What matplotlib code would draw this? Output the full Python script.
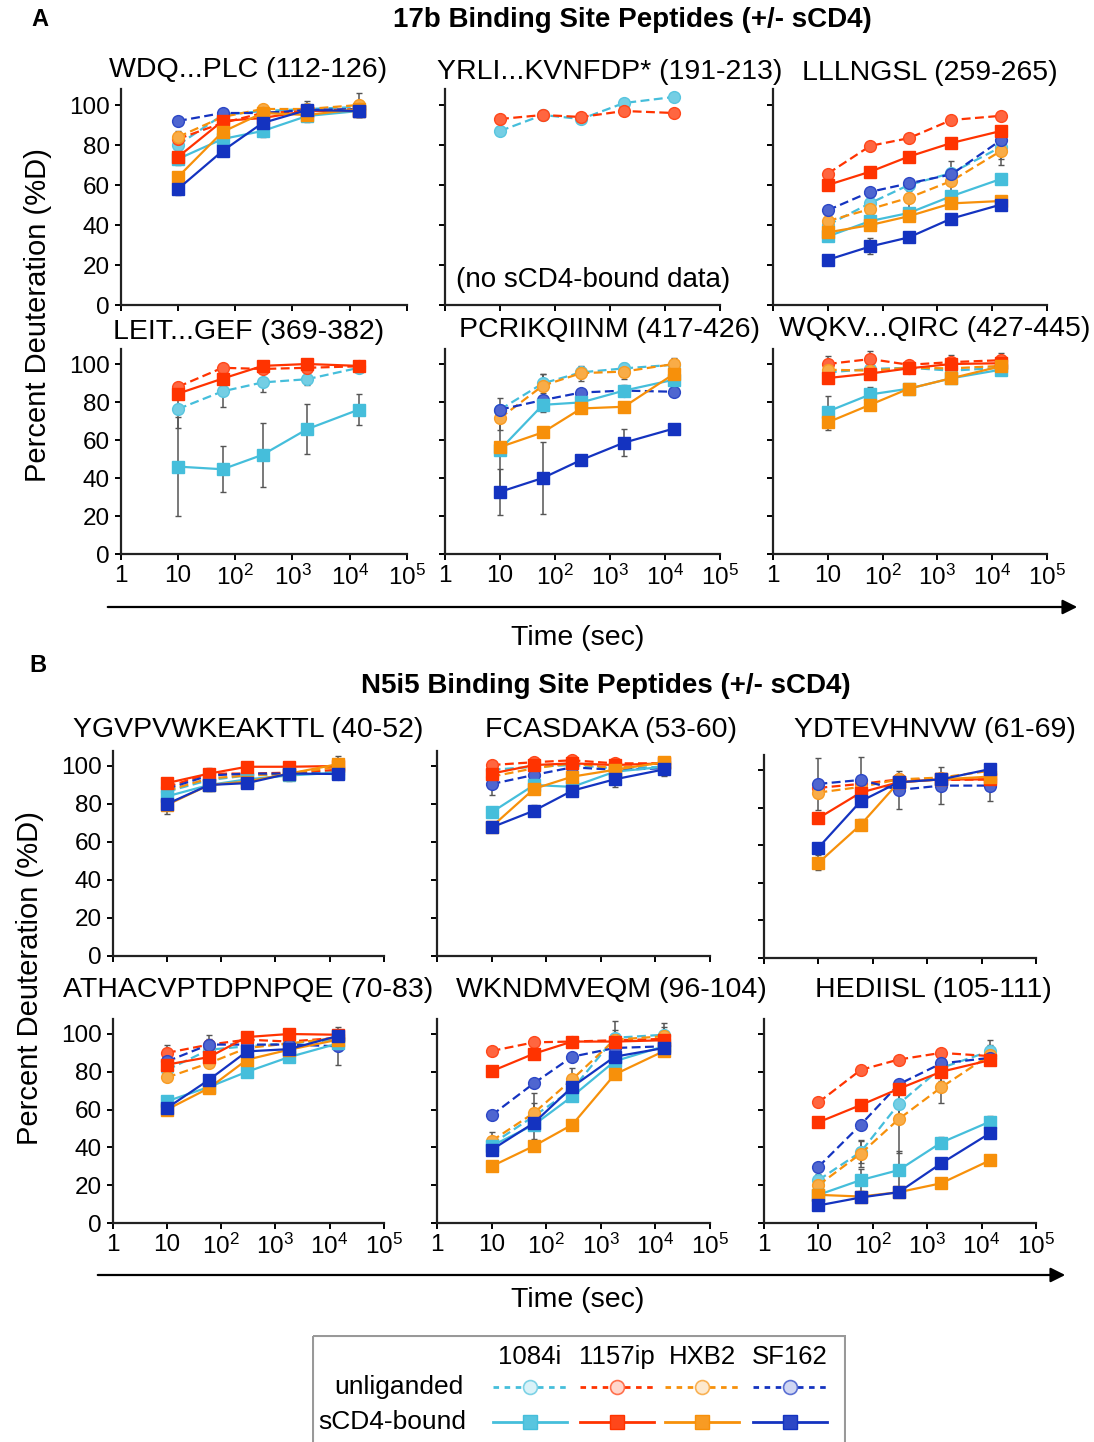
import matplotlib.pyplot as plt
from matplotlib.patches import Rectangle

plt.rcParams['font.family'] = ['Liberation Sans', 'DejaVu Sans']
plt.rcParams['mathtext.fontset'] = 'custom'
plt.rcParams['mathtext.rm'] = 'Liberation Sans'

W, H = 1094, 1442

TIMES = [10, 60, 300, 1800, 14400]
STRAINS = ["1084i", "1157ip", "HXB2", "SF162"]
COLORS = {"1084i": "#45bedb", "1157ip": "#ff3300", "HXB2": "#f7900a", "SF162": "#1433c0"}
XTICKS = [1, 10, 100, 1000, 10000, 100000]
XLABELS = ["1", "10", r"$\mathregular{10^{2}}$", r"$\mathregular{10^{3}}$",
           r"$\mathregular{10^{4}}$", r"$\mathregular{10^{5}}$"]
YTICKS = [0, 20, 40, 60, 80, 100]

# ---- A: 17b binding site peptides ----
wdq_unlig = {"1084i": [80, 95, 97, 98, 99], "1157ip": [83, 91, 96, 97, 98],
             "HXB2": [84, 94, 98, 98, 100], "SF162": [92, 96, 96, 97.5, 98]}
wdq_bound = {"1084i": [73, 83, 87, 94.5, 97], "1157ip": [74, 92, 93.5, 97, 97],
             "HXB2": [64, 86.5, 96, 95, 98], "SF162": [58, 77, 91, 97.5, 97]}
wdq_err = {("b", "SF162"): [3, 2, 2, 2, 3], ("u", "HXB2"): [3, 2, 2, 4, 6],
           ("b", "1084i"): [3, 2, 3, 3, 3]}

yrli_unlig = {"1084i": [87, 95, 93, 101, 104], "1157ip": [93, 95, 94, 97, 96]}
yrli_bound = {}
yrli_err = {}

lll_unlig = {"1084i": [40, 51, 60, 66, 79], "1157ip": [65.7, 79.6, 83.4, 92.5, 94.6],
             "HXB2": [42, 48, 53.6, 62, 77], "SF162": [47.4, 56.6, 60.8, 65.3, 82.4]}
lll_bound = {"1084i": [34.3, 42, 46, 54.4, 63], "1157ip": [60, 66.7, 74.2, 81, 87],
             "HXB2": [36.3, 40, 44.4, 50.8, 52], "SF162": [22.6, 29.3, 33.8, 43.2, 50.2]}
lll_err = {("u", "HXB2"): [2, 5, 6, 5, 7], ("b", "SF162"): [2, 4, 2, 2, 2],
           ("u", "1084i"): [2, 3, 3, 6, 6]}

leit_unlig = {"1084i": [76.3, 85.6, 90.3, 92, 98], "1157ip": [88, 98, 97.4, 98, 98.8]}
leit_bound = {"1084i": [46, 44.6, 52.2, 65.7, 76], "1157ip": [84.4, 92.3, 99, 100, 99]}
leit_err = {("b", "1084i"): [26, 12, 17, 13, 8], ("u", "1084i"): [10, 8, 5, 3, 2]}

pcr_unlig = {"1084i": [76, 89.8, 95.6, 97.7, 99.6], "HXB2": [71.5, 88.6, 95.2, 96, 100],
             "SF162": [76, 81, 85, 86, 85.4]}
pcr_bound = {"1084i": [55, 78.5, 79.8, 86, 91.7], "HXB2": [56.3, 64, 76.6, 77.5, 94.7],
             "SF162": [32.7, 40, 49.5, 58.6, 66]}
pcr_err = {("b", "1084i"): [22, 4, 3, 3, 3], ("b", "SF162"): [12, 19, 2, 7, 2],
           ("u", "HXB2"): [6, 6, 4, 4, 3], ("u", "1084i"): [6, 5, 3, 3, 3]}

wqk_unlig = {"1084i": [95.6, 97.4, 98, 96.5, 98], "1157ip": [100, 102.6, 99.6, 101, 102],
             "HXB2": [97, 96.5, 98, 97.7, 99]}
wqk_bound = {"1084i": [75, 84, 87, 92.5, 97], "1157ip": [92.6, 95, 97.7, 100, 100.4],
             "HXB2": [69.3, 78.6, 87, 92.5, 98.8]}
wqk_err = {("b", "1084i"): [8, 4, 2, 2, 2], ("b", "HXB2"): [4, 3, 2, 2, 2],
           ("u", "1157ip"): [4, 4, 2, 4, 4]}

# ---- B: N5i5 binding site peptides ----
ygv_unlig = {"1084i": [86.5, 92.6, 95, 95.6, 97], "1157ip": [89, 96, 96, 96.5, 98],
             "HXB2": [87, 93.5, 95, 96, 99.6], "SF162": [88, 95, 96, 96, 96]}
ygv_bound = {"1084i": [84, 90, 93, 95, 96.5], "1157ip": [91, 96, 99.6, 99.6, 100],
             "HXB2": [79.5, 90, 91.8, 96, 101], "SF162": [80, 90, 91, 96, 95.8]}
ygv_err = {("b", "HXB2"): [5, 3, 2, 4, 4], ("u", "SF162"): [3, 4, 2, 3, 3]}

fca_unlig = {"1084i": [98, 99.6, 100.5, 98.8, 99.6], "1157ip": [100.5, 102, 103, 101.4, 101.4],
             "HXB2": [94.4, 98.8, 101.4, 98.8, 101.8], "SF162": [90.5, 95.3, 99.3, 98, 98.8]}
fca_bound = {"1084i": [75.6, 90, 89, 97, 99.6], "1157ip": [96, 100.5, 101.4, 100.5, 101.4],
             "HXB2": [68, 88, 94.4, 98, 102], "SF162": [67.7, 76.5, 87, 93, 98.2]}
fca_err = {("u", "SF162"): [6, 4, 3, 4, 4], ("b", "SF162"): [2, 3, 2, 4, 3]}

ydt_unlig = {"1157ip": [90.5, 92.6, 95, 94.7, 95], "HXB2": [88, 91, 95, 96, 99.6],
             "SF162": [92.6, 94.7, 89.4, 91.7, 91.7]}
ydt_bound = {"1157ip": [74.4, 88, 93.5, 95, 95], "HXB2": [50.6, 70.9, 93.5, 95, 96.5],
             "SF162": [58.7, 83.4, 93.5, 95, 100.5]}
ydt_err = {("u", "SF162"): [14, 12, 10, 10, 8], ("b", "HXB2"): [4, 3, 2, 2, 2]}

ath_unlig = {"1084i": [81, 91.7, 93.5, 95, 97], "1157ip": [90, 94.4, 97, 96, 98],
             "HXB2": [77, 84.6, 92.6, 95, 98], "SF162": [85.5, 94.4, 94.4, 94.4, 93.5]}
ath_bound = {"1084i": [64.4, 72, 80, 87.8, 95], "1157ip": [83.8, 87.8, 98.4, 100, 99.6],
             "HXB2": [60, 71.4, 86.4, 91.7, 97], "SF162": [60.8, 75.8, 90.8, 92, 99]}
ath_err = {("u", "SF162"): [5, 5, 3, 3, 10], ("u", "1157ip"): [4, 3, 2, 2, 2]}

wkn_unlig = {"1084i": [41.7, 56.6, 70.7, 98, 99.6], "1157ip": [91, 95.6, 96, 96.7, 97.4],
             "HXB2": [43.4, 58.3, 76, 97, 98.8], "SF162": [57, 74, 88, 92.6, 93.5]}
wkn_bound = {"1084i": [40.8, 52, 67, 85.6, 93.5], "1157ip": [80.3, 89.6, 96, 96, 96.7],
             "HXB2": [30, 40.8, 52, 78.6, 91], "SF162": [38.7, 53, 72, 88, 92.6]}
wkn_err = {("u", "HXB2"): [5, 5, 6, 10, 7], ("u", "1084i"): [3, 12, 6, 4, 4]}

hed_unlig = {"1084i": [22.7, 37.6, 63, 82, 91], "1157ip": [63.8, 81, 86.5, 90, 88.3],
             "HXB2": [20, 36.7, 55, 71.7, 89], "SF162": [29.7, 52, 73.4, 84.4, 87.4]}
hed_bound = {"1084i": [14.9, 22.7, 28, 42.5, 53.7], "1157ip": [53.3, 62.4, 71, 80, 86.2],
             "HXB2": [14.9, 14, 16.3, 21, 33.2], "SF162": [9.3, 13.5, 16.3, 31.5, 47.6]}
hed_err = {("u", "HXB2"): [3, 7, 18, 8, 5], ("u", "1084i"): [3, 6, 6, 7, 6],
           ("b", "1084i"): [2, 6, 10, 3, 3]}

# panel title, data, and axes box in pixels: (x of 1, x of 1e5, y of 0, y of 100)
PANELS = [
    ("WDQ...PLC (112-126)", wdq_unlig, wdq_bound, wdq_err, (120.7, 407, 305, 105), (248, 70), True, False),
    ("YRLI...KVNFDP* (191-213)", yrli_unlig, yrli_bound, yrli_err, (445, 720, 305, 105), (610, 72), False, False),
    ("LLLNGSL (259-265)", lll_unlig, lll_bound, lll_err, (773, 1047, 305, 105), (930, 73), False, False),
    ("LEIT...GEF (369-382)", leit_unlig, leit_bound, leit_err, (120.7, 407, 554, 364), (249, 332), True, True),
    ("PCRIKQIINM (417-426)", pcr_unlig, pcr_bound, pcr_err, (445, 720, 554, 364), (610, 330), False, True),
    ("WQKV...QIRC (427-445)", wqk_unlig, wqk_bound, wqk_err, (773, 1047, 554, 364), (935, 329), False, True),
    ("YGVPVWKEAKTTL (40-52)", ygv_unlig, ygv_bound, ygv_err, (112.7, 383.7, 956, 766), (248, 730), True, False),
    ("FCASDAKA (53-60)", fca_unlig, fca_bound, fca_err, (437, 710, 956, 766), (611, 730), False, False),
    ("YDTEVHNVW (61-69)", ydt_unlig, ydt_bound, ydt_err, (764, 1036, 958, 770), (935, 730), False, False),
    ("ATHACVPTDPNPQE (70-83)", ath_unlig, ath_bound, ath_err, (112.7, 383.7, 1223, 1034), (248, 990), True, True),
    ("WKNDMVEQM (96-104)", wkn_unlig, wkn_bound, wkn_err, (437, 710, 1223, 1034), (611, 990), False, True),
    ("HEDIISL (105-111)", hed_unlig, hed_bound, hed_err, (764, 1036, 1223, 1034), (933, 990), False, True),
]

YTOP = 108


def lighten(hexcol, f):
    r, g, b = [int(hexcol[i:i + 2], 16) / 255 for i in (1, 3, 5)]
    return (r + (1 - r) * f, g + (1 - g) * f, b + (1 - b) * f)


fig = plt.figure(figsize=(W / 100, H / 100), dpi=100)

for title, unlig, bound, err, box, tpos, ylab, xlab in PANELS:
    x0, x1, y0, y100 = box
    ytop = y0 - YTOP * (y0 - y100) / 100
    ax = fig.add_axes([x0 / W, 1 - y0 / H, (x1 - x0) / W, (y0 - ytop) / H])
    ax.set_xscale('log')
    ax.set_xlim(1, 1e5)
    ax.set_ylim(0, YTOP)
    for s in ['top', 'right']:
        ax.spines[s].set_visible(False)
    for s in ['left', 'bottom']:
        ax.spines[s].set_linewidth(1.6)
        ax.spines[s].set_color('#222222')
    ax.set_xticks(XTICKS)
    ax.minorticks_off()
    ax.set_yticks(YTICKS)
    ax.tick_params(direction='out', length=4, width=1.4, labelsize=17.5, pad=4)
    ax.set_xticklabels(XLABELS if xlab else [])
    ax.set_yticklabels(YTICKS if ylab else [])
    ax.patch.set_alpha(0)

    for k, s in enumerate(STRAINS):
        if s not in unlig:
            continue
        c = COLORS[s]
        e = err.get(("u", s))
        if e:
            ax.errorbar(TIMES, unlig[s], yerr=e, fmt='none', ecolor='#555555',
                        elinewidth=1.1, capsize=2, zorder=2)
        ax.plot(TIMES, unlig[s], ls=(0, (4, 2)), lw=1.6, color=c, marker='o', ms=8.5,
                mfc=lighten(c, 0.25), mec=lighten(c, 0.1), mew=1, zorder=3 + k * 0.1)
    for k, s in enumerate(STRAINS):
        if s not in bound:
            continue
        c = COLORS[s]
        e = err.get(("b", s))
        if e:
            ax.errorbar(TIMES, bound[s], yerr=e, fmt='none', ecolor='#555555',
                        elinewidth=1.1, capsize=2, zorder=2)
        ax.plot(TIMES, bound[s], ls='-', lw=1.6, color=c, marker='s', ms=8.5,
                mfc=c, mec=c, zorder=4 + k * 0.1)

    fig.text(tpos[0] / W, 1 - tpos[1] / H, title, ha='center', va='center', fontsize=20.5)

fig.text(593 / W, 1 - 280 / H, "(no sCD4-bound data)", ha='center', va='center', fontsize=20)

# section headings
fig.text(40 / W, 1 - 20 / H, "A", fontsize=17, fontweight='bold', ha='center', va='center')
fig.text(632 / W, 1 - 20 / H, "17b Binding Site Peptides (+/- sCD4)", fontsize=20,
         fontweight='bold', ha='center', va='center')
fig.text(38 / W, 1 - 665 / H, "B", fontsize=17, fontweight='bold', ha='center', va='center')
fig.text(606 / W, 1 - 686 / H, "N5i5 Binding Site Peptides (+/- sCD4)", fontsize=20,
         fontweight='bold', ha='center', va='center')

fig.text(38 / W, 1 - 315 / H, "Percent Deuteration (%D)", rotation=90, fontsize=21,
         ha='center', va='center')
fig.text(30 / W, 1 - 978 / H, "Percent Deuteration (%D)", rotation=90, fontsize=21,
         ha='center', va='center')

# time arrows
for xa, xb, ya, yt in [(105, 1080, 607, 638), (95, 1068, 1275, 1300)]:
    plt.annotate('', xy=(xb / W, 1 - ya / H), xytext=(xa / W, 1 - ya / H),
                 xycoords='figure fraction', textcoords='figure fraction',
                 arrowprops=dict(arrowstyle='-|>', lw=1.6, color='black', mutation_scale=22))
    fig.text(578 / W, 1 - yt / H, "Time (sec)", fontsize=20.5, ha='center', va='center')

# legend box
lx0, lx1, ly0, ly1 = 312, 846, 1335, 1442
lg = fig.add_axes([lx0 / W, 0, (lx1 - lx0) / W, (ly1 - ly0) / H])
lg.set_xlim(lx0, lx1)
lg.set_ylim(ly1, ly0)
lg.axis('off')
lg.add_patch(Rectangle((lx0 + 1, ly0 + 1), lx1 - lx0 - 2, 120, fill=False,
                       edgecolor='#999999', lw=1.5, clip_on=True))
centers = [530, 617, 702, 790]
for cx, s in zip(centers, STRAINS):
    c = COLORS[s]
    lg.text(cx, 1357, s, fontsize=18.5, ha='center', va='center')
    lg.plot([cx - 37, cx, cx + 37], [1387, 1387, 1387], ls=(0, (2, 2)), lw=2, color=c,
            marker='o', ms=10, markevery=[1], mfc=lighten(c, 0.8), mec=lighten(c, 0.3), mew=1.2)
    lg.plot([cx - 37, cx, cx + 37], [1422, 1422, 1422], ls='-', lw=2, color=c,
            marker='s', ms=10, markevery=[1], mfc=lighten(c, 0.1), mec=c)
lg.text(464, 1387, "unliganded", fontsize=19, ha='right', va='center')
lg.text(466, 1422, "sCD4-bound", fontsize=19, ha='right', va='center')

fig.savefig("out.png", dpi=100)
